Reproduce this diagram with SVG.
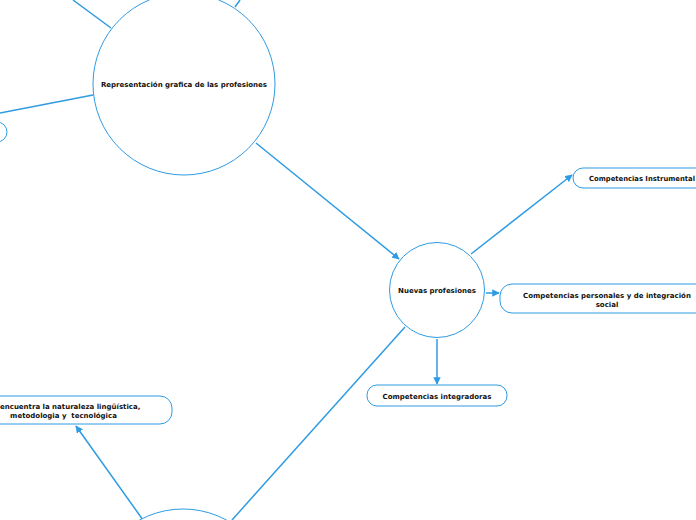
<svg xmlns="http://www.w3.org/2000/svg" width="696" height="520" viewBox="0 0 696 520">
<style>
.n{fill:#fff;stroke:#2e9be3;stroke-width:1}
.c{fill:none;stroke:#2e9be3;stroke-width:1.5}
.t{font-family:"DejaVu Sans",Verdana,sans-serif;font-weight:bold;font-size:7px;fill:#111}
.m{text-anchor:middle}
</style>
<defs>
<marker id="a" viewBox="0 0 10 10" refX="9" refY="5" markerWidth="5" markerHeight="5" orient="auto" markerUnits="strokeWidth">
<path d="M0,0 L10,5 L0,10 z" fill="#2e9be3"/>
</marker>
</defs>
<rect width="696" height="520" fill="#fff"/>
<g id="connectors">
<line class="c" x1="111" y1="28" x2="73" y2="0"/>
<line class="c" x1="235" y1="7" x2="240" y2="0"/>
<line class="c" x1="93" y1="95" x2="0" y2="113"/>
<line class="c" x1="256" y1="143" x2="399" y2="259" marker-end="url(#a)"/>
<line class="c" x1="471" y1="254" x2="572" y2="175" marker-end="url(#a)"/>
<line class="c" x1="486" y1="293" x2="499" y2="293" marker-end="url(#a)"/>
<line class="c" x1="437" y1="339" x2="437" y2="384" marker-end="url(#a)"/>
<line class="c" x1="405" y1="327" x2="232" y2="520"/>
<line class="c" x1="143" y1="520" x2="76" y2="426" marker-end="url(#a)"/>
</g>
<g id="n-representacion">
<circle class="n" cx="184" cy="84" r="91"/>
<text class="t m" x="184" y="87">Representación grafica de las profesiones</text>
</g>
<g id="n-left">
<rect class="n" x="-30" y="122" width="37" height="20" rx="10"/>
</g>
<g id="n-nuevas">
<circle class="n" cx="437" cy="290" r="47.5"/>
<text class="t m" x="437" y="293">Nuevas profesiones</text>
</g>
<g id="n-instrumental">
<rect class="n" x="573" y="168" width="160" height="20" rx="10"/>
<text class="t" x="589" y="180.5" textLength="106" lengthAdjust="spacingAndGlyphs">Competencias Instrumental</text>
</g>
<g id="n-personales">
<rect class="n" x="500" y="284" width="230" height="29" rx="12"/>
<text class="t m" x="607" y="297.5">Competencias personales y de integración</text>
<text class="t m" x="607" y="306.5">social</text>
</g>
<g id="n-integradoras">
<rect class="n" x="367" y="385" width="140" height="21" rx="10"/>
<text class="t m" x="437" y="398.5">Competencias integradoras</text>
</g>
<g id="n-naturaleza">
<rect class="n" x="-40" y="396" width="212" height="28" rx="12"/>
<text class="t" x="0" y="409">encuentra la naturaleza lingüística,</text>
<text class="t m" x="63.5" y="418" xml:space="preserve">metodologia y  tecnológica</text>
</g>
<g id="n-bottom">
<circle class="n" cx="183" cy="600" r="91"/>
</g>
</svg>
